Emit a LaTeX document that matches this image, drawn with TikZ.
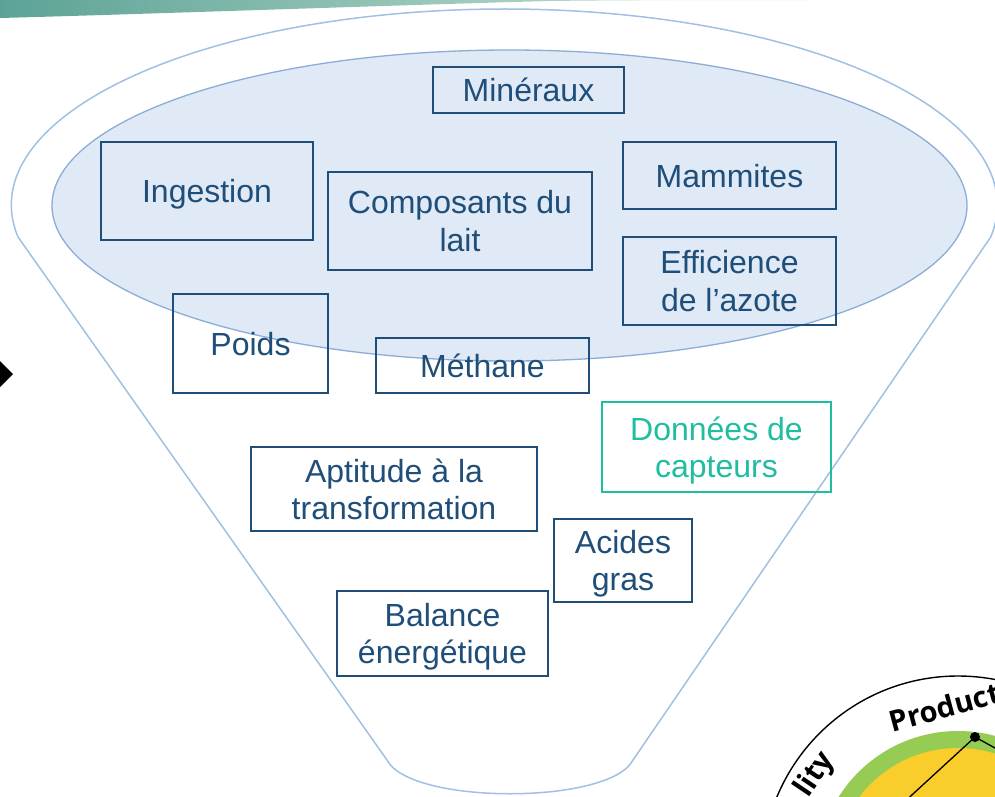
\documentclass[tikz,border=0pt]{standalone}
\usepackage{fontspec}
\setmainfont{Liberation Sans}
\newfontfamily\labfont{Open Sans}
\definecolor{boxblue}{RGB}{31,78,121}
\definecolor{teal2}{RGB}{33,189,160}
\definecolor{ellfill}{RGB}{224,233,246}
\definecolor{ellline}{RGB}{140,173,215}
\definecolor{funline}{RGB}{160,192,228}
\definecolor{bandA}{RGB}{92,163,150}
\definecolor{bandB}{RGB}{215,236,220}
\definecolor{radgreen}{RGB}{150,204,84}
\definecolor{radyellow}{RGB}{249,205,44}
\tikzset{
  box/.style={draw=boxblue, line width=2.5pt, text=boxblue, align=center,
    font=\fontsize{32}{37.5}\selectfont, inner sep=0pt, text depth=0pt},
  tealbox/.style={box, draw=teal2, text=teal2},
  funnel/.style={draw=funline, line width=1.5pt, fill=white},
  innerell/.style={draw=ellline, line width=1.3pt, fill=ellfill},
  radlabel/.style={font=\labfont\bfseries\fontsize{29}{33}\selectfont, text=black}
}
\begin{document}
\begin{tikzpicture}[x=1pt,y=-1pt]
\useasboundingbox (0,0) rectangle (995,797);
\clip (0,0) rectangle (995,797);
% green band at top
\shade[left color=bandA, right color=bandB] (0,0) -- (860,0) .. controls (720,0) and (620,0) .. (550,1) .. controls (400,5) and (150,14) .. (0,18) -- cycle;
% funnel
\draw[funnel] (18,237) arc[start angle=189.4, end angle=-9.4, x radius=493pt, y radius=196pt]
  -- (633,760) .. controls (610,805) and (410,805) .. (387,760) -- cycle;
% inner ellipse
\draw[innerell] (509.5,205.5) ellipse [x radius=457.5pt, y radius=155.5pt];
% boxes
\node[box, minimum width=191pt, minimum height=46pt] (min) at (528.5,90) {Minéraux};
\node[box, minimum width=212pt, minimum height=98pt] (ing) at (207,191) {Ingestion};
\node[box, minimum width=264pt, minimum height=98pt] (comp) at (460,221) {Composants du\\lait};
\node[box, minimum width=213pt, minimum height=67pt] (mam) at (729.5,175.5) {Mammites};
\node[box, minimum width=213pt, minimum height=88pt] (eff) at (729.5,281) {Efficience\\de l’azote};
\node[box, minimum width=155pt, minimum height=99pt] (poids) at (250.5,343.5) {Poids};
\node[box, minimum width=213pt, minimum height=55pt] (meth) at (482.5,365.5) {Méthane};
\node[tealbox, minimum width=229pt, minimum height=90pt] (don) at (716.5,447) {Données de\\capteurs};
\node[box, minimum width=286pt, minimum height=84pt] (apt) at (394,489) {Aptitude à la\\transformation};
\node[box, minimum width=138pt, minimum height=83pt] (ac) at (623,560.5) {Acides\\gras};
\node[box, minimum width=211pt, minimum height=85pt] (bal) at (442.5,633.5) {Balance\\énergétique};
% left arrow head
\fill[black] (-2,359) -- (13,374) -- (-2,389) -- cycle;
% radar chart corner
\coordinate (rc) at (958,872);
\draw[black, line width=1.4pt, fill=white] (rc) circle[radius=196pt];
\fill[radgreen] (rc) circle[radius=141pt];
\fill[radyellow] (rc) circle[radius=124pt];
\coordinate (dot) at (975,737);
\coordinate (la) at (877,827);
\coordinate (lb) at (1035,770);
\draw[black, line width=1.3pt] (la) -- (dot) -- (lb);
\fill[black] (dot) circle[radius=5pt];
\node[radlabel, rotate=15, anchor=base west] (prod) at (889,733) {Product};
\node[radlabel, rotate=56] (lity) at (815,775) {lity};
\end{tikzpicture}
\end{document}
